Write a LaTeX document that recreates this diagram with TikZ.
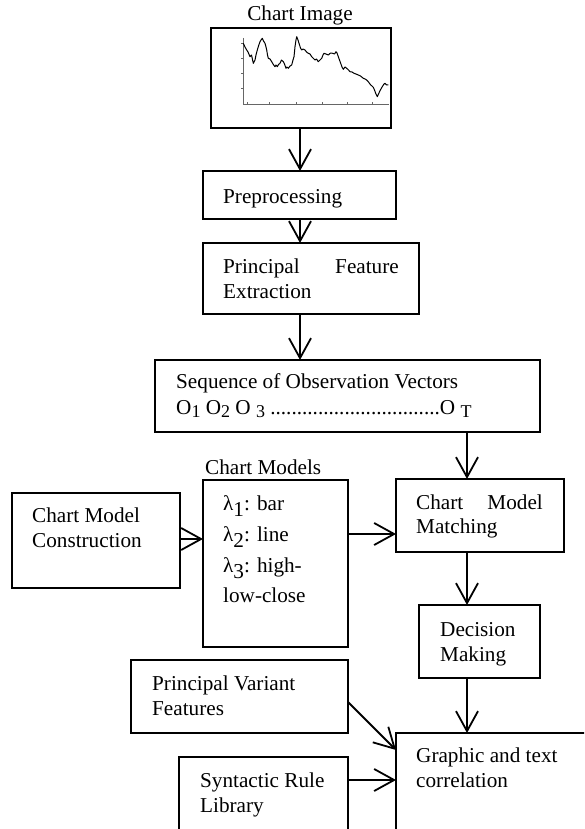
\documentclass[tikz,border=0pt]{standalone}
\usepackage{fontspec}
\setmainfont{Liberation Serif}
\usetikzlibrary{arrows.meta,calc}
\newcommand\osub[1]{\raisebox{-3pt}{\fontsize{18}{18}\selectfont #1}}
\newcommand\lsub[1]{\raisebox{-6pt}{#1}}
\begin{document}
\begin{tikzpicture}[x=1pt,y=-1pt,
  box/.style={draw, line width=2pt, inner sep=0pt, outer sep=0pt, anchor=north west},
  lbl/.style={anchor=base west, inner sep=0pt, font=\fontsize{21.2}{25}\selectfont},
  arr/.style={line width=1.8pt, -{Straight Barb[length=20pt,width=22pt,line width=1.8pt]}},
  curve/.style={line width=1pt, line join=round},
  axis/.style={black!60, line width=0.9pt}]
\useasboundingbox (0,0) rectangle (584,829);
\fill[white] (0,0) rectangle (584,829);
\clip (0,0) rectangle (584,829);
% coordinates for connector columns/rows
\coordinate (cx) at (300,0);
\coordinate (rx) at (467,0);
\coordinate (y1) at (0,539);
\coordinate (y2) at (0,534);
\coordinate (y3) at (0,702);
\coordinate (y4) at (0,750);
\coordinate (y5) at (0,780);
% Chart image
\node[lbl, anchor=base] (timg) at (300,21) {Chart Image};
\node[box, minimum width=180, minimum height=100] (img) at (211,28) {};
\draw[axis] (243,38) -- (243,104) -- (389,104);
\foreach \yy in {43,58,73,88} \draw[axis] (241,\yy) -- (243,\yy);
\foreach \xx in {247,269,296,322,347,372} \draw[axis] (\xx,104) -- (\xx,102);
\draw[curve] plot coordinates {(243.3,43.3) (245,47) (246.7,50) (248,52) (250,56.7) (251.5,55) (253.3,63.3) (255,60) (256,55) (257.3,50) (258.5,46) (260,41.7) (261,40) (262.3,38.3) (263.5,41) (265,43.3) (266,47) (266.7,50) (267.5,55) (268.3,58.3) (270,59) (271.7,61.7) (273,64) (275,66.7) (276,65) (277.3,66.7) (278.5,64.5) (280,63.3) (281.5,60) (283.3,61.7) (284.5,64) (286,68.3) (287,67) (288.3,68.3) (290,66) (291.7,65) (293,60) (294,56.7) (294.6,51) (295,46.7) (296,40) (296.7,36.7) (298,40) (299,43.3) (300.5,48) (301.7,50) (303,49) (305,50) (306.5,52) (308.3,53.3) (310,54) (311.7,56.7) (313,58) (315,60) (316.5,59) (318.3,61.7) (320,60) (321.7,58.3) (323,55) (324,53.3) (326,54) (328.3,55) (330.5,53) (332.7,53.3) (334.5,54) (336,51.7) (337,53) (338.3,56.7) (339.5,60) (340.7,63.3) (342,67) (343.3,69.3) (345,67) (346.7,68.3) (348.5,70) (350,71.7) (352,72) (354,73.3) (356,74) (358.3,75) (360.5,76) (363.3,78.3) (365,79) (366.7,80) (368.5,82) (370.7,85) (372,86) (373.3,87.3) (374.5,90) (375.7,93.3) (376.5,95) (377.3,96.7) (378.5,94) (380,90.7) (381.5,88) (382.7,86) (384,84) (385,83.3) (386.5,85) (388.3,85)};
% Preprocessing
\node[box, minimum width=193, minimum height=48] (pre) at (203,171) {};
\node[lbl] (tpre) at (223,203) {Preprocessing};
% Principal Feature Extraction
\node[box, minimum width=216, minimum height=71] (pfe) at (203,243) {};
\node[lbl] (tpfe1) at (223,273) {Principal};
\node[lbl, anchor=base east] (tpfe2) at (399,273) {Feature};
\node[lbl] (tpfe3) at (223,298) {Extraction};
% Sequence
\node[box, minimum width=385, minimum height=72] (seq) at (155,360) {};
\node[lbl] (tseq1) at (176,388) {Sequence of Observation Vectors};
\node[lbl] (tseq2) at (176,414) {O\osub{1} O\osub{2} O \osub{3} ................................O \osub{T}};
% Chart Models
\node[lbl] (tcm) at (205,474) {Chart Models};
\node[box, minimum width=145, minimum height=167] (cm) at (203,480) {};
\node[lbl] (l1) at (223,510) {λ\lsub{1}: bar};
\node[lbl] (l2) at (223,541) {λ\lsub{2}: line};
\node[lbl] (l3) at (223,572) {λ\lsub{3}: high-};
\node[lbl] (l4) at (223,602) {low-close};
% Chart Model Construction
\node[box, minimum width=168, minimum height=95] (cmc) at (12,493) {};
\node[lbl] (tcmc1) at (32,522) {Chart Model};
\node[lbl] (tcmc2) at (32,547) {Construction};
% Chart Model Matching
\node[box, minimum width=168, minimum height=73] (cmm) at (396,479) {};
\node[lbl] (tcmm1) at (416,509) {Chart};
\node[lbl, anchor=base east] (tcmm2) at (543,509) {Model};
\node[lbl] (tcmm3) at (416,533) {Matching};
% Decision Making
\node[box, minimum width=121, minimum height=73] (dm) at (419,605) {};
\node[lbl] (tdm1) at (440,636) {Decision};
\node[lbl] (tdm2) at (440,661) {Making};
% Principal Variant Features
\node[box, minimum width=217, minimum height=73] (pvf) at (131,660) {};
\node[lbl] (tpvf1) at (152,690) {Principal Variant};
\node[lbl] (tpvf2) at (152,715) {Features};
% Syntactic Rule Library
\node[box, minimum width=169, minimum height=80] (srl) at (179,757) {};
\node[lbl] (tsrl1) at (200,787) {Syntactic Rule};
\node[lbl] (tsrl2) at (200,812) {Library};
% Graphic and text correlation
\node[box, minimum width=200, minimum height=110] (gtc) at (396,733) {};
\node[lbl] (tgtc1) at (416,762) {Graphic and text};
\node[lbl] (tgtc2) at (416,787) {correlation};
% connectors
\draw[arr] (cx |- img.south) -- (cx |- pre.north);
\draw[arr] (cx |- pre.south) -- (cx |- pfe.north);
\draw[arr] (cx |- pfe.south) -- (cx |- seq.north);
\draw[arr] (rx |- seq.south) -- (rx |- cmm.north);
\draw[arr] (rx |- cmm.south) -- (rx |- dm.north);
\draw[arr] (rx |- dm.south) -- (rx |- gtc.north);
\draw[arr] (cmc.east |- y1) -- (cm.west |- y1);
\draw[arr] (cm.east |- y2) -- (cmm.west |- y2);
\draw[arr] (pvf.east |- y3) -- (gtc.west |- y4);
\draw[arr] (srl.east |- y5) -- (gtc.west |- y5);
\end{tikzpicture}
\end{document}
